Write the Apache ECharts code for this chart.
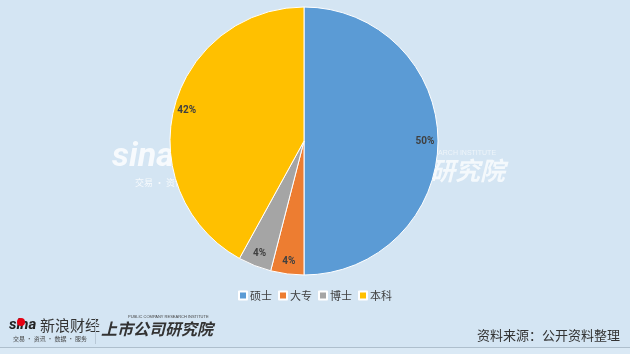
<!DOCTYPE html>
<html><head><meta charset="utf-8">
<script src="https://cdn.jsdelivr.net/npm/echarts@6/dist/echarts.min.js"></script>
<style>html,body{margin:0;padding:0;background:#d4e5f3;}#c{width:630px;height:354px;}</style>
</head><body><div id="c"></div>
<script>
const categories = ['硕士', '大专', '博士', '本科'];
const values = [50, 4, 4, 42];
const colors = ['#5b9bd5', '#ed7d31', '#a5a5a5', '#ffc000'];
const sourceText = '资料来源：公开资料整理';

const data = categories.map((c, i) => ({ name: c, value: values[i], itemStyle: { color: colors[i] } }));
const chart = echarts.init(document.getElementById('c'), null, { renderer: 'canvas' });
const cjk = '"Noto Sans CJK SC", sans-serif';
chart.setOption({
  backgroundColor: '#d4e5f3',
  animation: false,
  legend: {
    data: categories,
    left: 'center', top: 285,
    itemWidth: 8, itemHeight: 8, itemGap: 6,
    icon: 'rect',
    textStyle: { fontFamily: cjk, fontSize: 11, color: '#404040', padding: [0, 0, 0, -2] }
  },
  series: [
    {
      type: 'pie', center: [304, 141], radius: [0, 134], startAngle: 90, clockwise: true,
      data: data, z: 5,
      itemStyle: { borderColor: '#ffffff', borderWidth: 1 },
      label: { show: false }, labelLine: { show: false }, emphasis: { disabled: true }, silent: true
    },
    {
      type: 'pie', center: [304, 141], radius: [100, 136], startAngle: 90, clockwise: true,
      data: categories.map((c, i) => ({ name: c, value: values[i] })),
      itemStyle: { color: 'rgba(0,0,0,0)' },
      label: { show: true, position: 'inside', formatter: '{c}%', fontSize: 10, fontWeight: 'bold', color: '#404040', fontFamily: 'Roboto, sans-serif' },
      labelLine: { show: false }, emphasis: { disabled: true }, silent: true, legendHoverLink: false, z: 6
    }
  ],
  graphic: [
    { type: 'text', left: 112, top: 140, z: 1, style: { text: 'sina', font: 'italic bold 34px Roboto, sans-serif', fill: 'rgba(255,255,255,0.8)' } },
    { type: 'text', left: 135, top: 178, z: 1, style: { text: '交易 · 资讯', font: '9px ' + cjk, fill: 'rgba(255,255,255,0.8)' } },
    { type: 'text', left: 330, top: 158, z: 1, style: { text: '上市公司研究院', font: 'italic bold 25px ' + cjk, fill: 'rgba(255,255,255,0.75)' } },
    { type: 'text', left: 355, top: 150, z: 1, style: { text: 'PUBLIC COMPANY RESEARCH INSTITUTE', font: '7px sans-serif', fill: 'rgba(255,255,255,0.6)' } },
    { type: 'line', z: 50, shape: { x1: 0, y1: 347.5, x2: 630, y2: 347.5 }, style: { stroke: '#aebfcd', lineWidth: 1 } },
    { type: 'rect', z: 49, shape: { x: 0, y: 348, width: 630, height: 6 }, style: { fill: '#dae9f5' } },
    { type: 'text', right: 10, top: 329, z: 50, style: { text: sourceText, font: '13px ' + cjk, fill: '#333333' } },
    { type: 'text', left: 9, top: 318, z: 50, style: { text: 'sina', font: 'italic bold 15px Roboto, sans-serif', fill: '#222222' } },
    { type: 'circle', z: 51, shape: { cx: 21, cy: 322, r: 4 }, style: { fill: '#e60012' } },
    { type: 'text', left: 40, top: 318, z: 50, style: { text: '新浪财经', font: '15px ' + cjk, fill: '#333333' } },
    { type: 'text', left: 13, top: 336, z: 50, style: { text: '交易 · 资讯 · 数据 · 服务', font: '6px ' + cjk, fill: '#444444' } },
    { type: 'line', z: 50, shape: { x1: 95.5, y1: 318, x2: 95.5, y2: 344 }, style: { stroke: '#b8c8d6', lineWidth: 1 } },
    { type: 'text', left: 101, top: 321, z: 50, style: { text: '上市公司研究院', font: 'italic bold 16px ' + cjk, fill: '#333333' } },
    { type: 'text', left: 128, top: 315, z: 50, style: { text: 'PUBLIC COMPANY RESEARCH INSTITUTE', font: '4px sans-serif', fill: '#444444' } }
  ]
});
</script></body></html>
